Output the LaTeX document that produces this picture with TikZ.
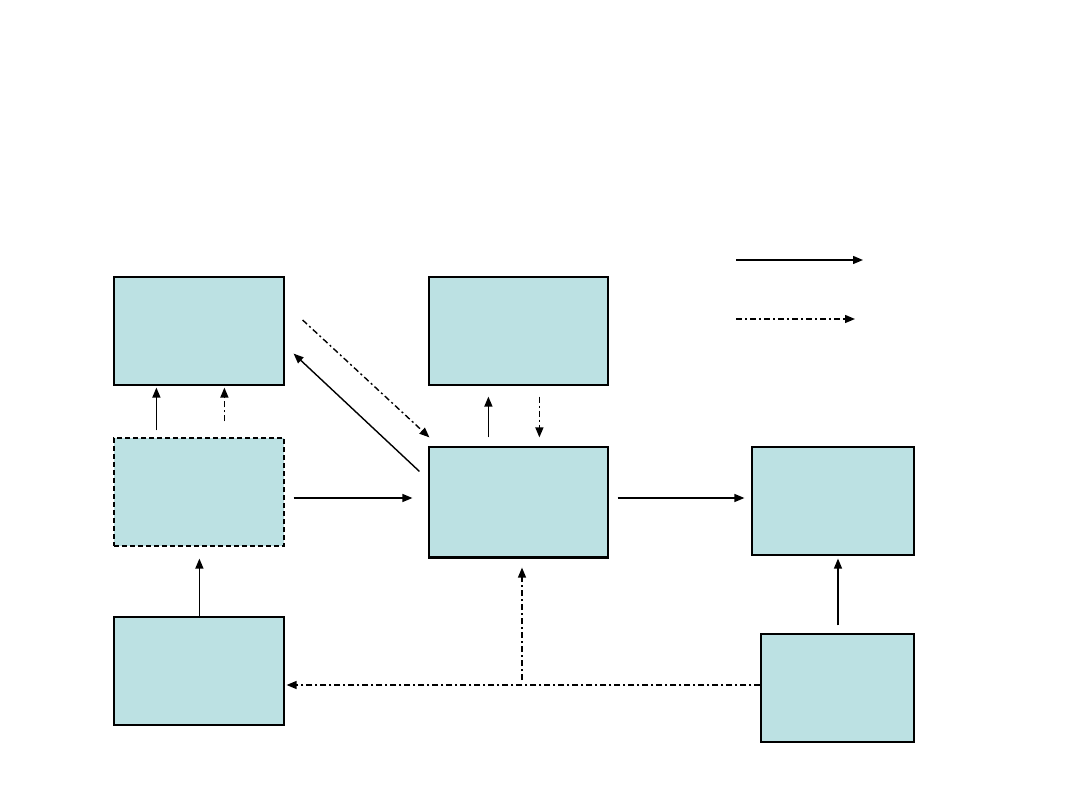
\documentclass[tikz,border=0pt]{standalone}
\usepackage{tikz}
\usetikzlibrary{positioning,arrows.meta}
\definecolor{boxfill}{RGB}{188,225,227}
\tikzset{
  flowarrow/.style={-{Triangle[length=10pt,width=8pt]}, line width=1.4pt},
  feedarrow/.style={flowarrow, dash pattern=on 6pt off 3pt on 2pt off 3pt},
  stagebox/.style={draw, fill=boxfill, line width=1.2pt, inner sep=0pt, minimum width=170pt, minimum height=108pt},
  guessbox/.style={stagebox, dash pattern=on 5pt off 3pt}
}
\begin{document}
\begin{tikzpicture}[x=1pt, y=-1pt]
  \useasboundingbox (0,0) rectangle (1080,810);
  % boxes
  \node[stagebox] (A) at (199,331) {};
  \node[stagebox, minimum width=179pt] (B) at (518.5,331) {};
  \node[guessbox] (C) at (199,492) {};
  \node[stagebox, minimum width=179pt, minimum height=110pt] (D) at (518.5,502) {};
  \draw[line width=3pt] (D.south west) -- (D.south east);
  \node[stagebox, minimum width=162pt] (E) at (833,501) {};
  \node[stagebox] (F) at (199,671) {};
  \node[stagebox, minimum width=153pt] (G) at (837.5,688) {};
  % legend
  \coordinate (keyS) at (736,260);
  \coordinate (keyT) at (863,260);
  \coordinate (keyU) at (736,319);
  \coordinate (keyV) at (855,319);
  \draw[flowarrow] (keyS) -- (keyT);
  \draw[feedarrow] (keyU) -- (keyV);
  % connectors
  \draw[flowarrow] ([shift={(43,-7)}]C.north west) -- ([shift={(43,2)}]A.south west);
  \draw[feedarrow] ([shift={(111,-16)}]C.north west) -- ([shift={(111,2)}]A.south west);
  \draw[flowarrow] ([shift={(-9,25)}]D.north west) -- ([shift={(9,-32)}]A.south east);
  \draw[feedarrow] ([shift={(18,-11)}]A.east) -- ([shift={(1,-9)}]D.north west);
  \draw[flowarrow] ([shift={(60,-9)}]D.north west) -- ([shift={(60,11)}]B.south west);
  \draw[feedarrow] ([shift={(111,11)}]B.south west) -- ([shift={(111,-9)}]D.north west);
  \draw[flowarrow] ([shift={(9,6)}]C.east) -- ([shift={(-16,-4)}]D.west);
  \draw[flowarrow] ([shift={(9,-4)}]D.east) -- ([shift={(-7,-3)}]E.west);
  \draw[flowarrow] ([xshift=86pt]F.north west) -- ([shift={(86,12)}]C.south west);
  \draw[flowarrow] ([shift={(0.5,-8)}]G.north) -- ([shift={(5,3)}]E.south);
  \draw[feedarrow] ([yshift=3pt]G.west) -- ([shift={(2,14)}]F.east);
  \coordinate (split) at (522,680);
  \draw[feedarrow] (split) -- ([shift={(3.5,10)}]D.south);
\end{tikzpicture}
\end{document}
